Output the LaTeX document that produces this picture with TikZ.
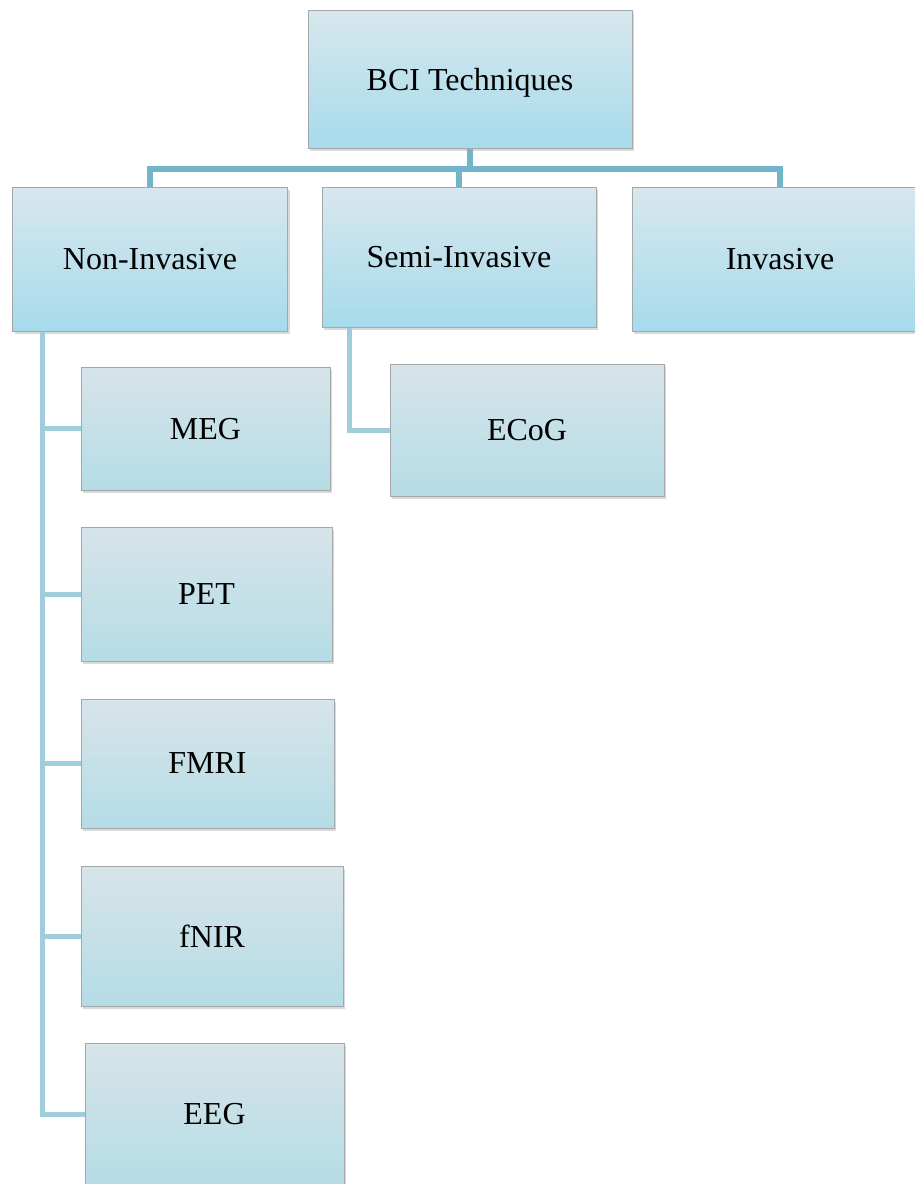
\documentclass[tikz,border=0pt]{standalone}
\usepackage{fontspec}
\setmainfont{Liberation Serif}
\usetikzlibrary{positioning, shadows}

\definecolor{busdark}{HTML}{72B5CA}
\definecolor{buslight}{HTML}{A0CCDB}
\definecolor{boxedge}{HTML}{A4A8AA}
\definecolor{headtop}{HTML}{D8E7ED}
\definecolor{headbot}{HTML}{A6DBEC}
\definecolor{subtop}{HTML}{D7E4E9}
\definecolor{subbot}{HTML}{B5DCE6}

\begin{document}
\begin{tikzpicture}[
    x=1pt, y=-1pt, % one unit is one pixel of the layout
    box/.style={draw=boxedge, line width=1pt, inner sep=0pt, text depth=0pt, font=\fontsize{32}{38}\selectfont,
      drop shadow={opacity=0.3, shadow xshift=2pt, shadow yshift=-3pt}}, % common box look
    headbox/.style={box, top color=headtop, bottom color=headbot}, % top two rows
    subbox/.style={box, top color=subtop, bottom color=subbot}, % technique boxes
    bus/.style={line width=6pt, draw=busdark}, % upper tree lines
    sidebus/.style={line width=5pt, draw=buslight} % side lines to the techniques
  ]

  % --- Page ---
  \useasboundingbox (0,0) rectangle (915,1184);
  \clip (0,0) rectangle (915,1184);

  % --- Root and categories ---
  \node[headbox, minimum width=324pt, minimum height=138pt] (bci) at (470,79) {BCI Techniques};
  \node[headbox, minimum width=275pt, minimum height=144pt] (noninv) at (150,259) {Non-Invasive};
  \node[headbox, minimum width=274pt, minimum height=140pt] (semiinv) at (459,257) {Semi-Invasive};
  \node[headbox, minimum width=296pt, minimum height=144pt] (inv) at (780,259) {Invasive};

  % --- Techniques ---
  \node[subbox, minimum width=249pt, minimum height=123pt] (meg) at (205.5,428.5) {MEG};
  \node[subbox, minimum width=251pt, minimum height=134pt] (pet) at (206.5,594) {PET};
  \node[subbox, minimum width=253pt, minimum height=129pt] (fmri) at (207.5,763.5) {FMRI};
  \node[subbox, minimum width=262pt, minimum height=140pt] (fnir) at (212,936) {fNIR};
  \node[subbox, minimum width=259pt, minimum height=142pt] (eeg) at (214.5,1114) {EEG};
  \node[subbox, minimum width=274pt, minimum height=132pt] (ecog) at (527,430) {ECoG};

  % --- Tree lines ---
  \draw[bus] (bci.south) -- ++(0,20) coordinate (split);
  \draw[bus] (split) -| (noninv.north);
  \draw[bus] (split) -| (semiinv.north);
  \draw[bus] (split) -| (inv.north);

  \coordinate (nonbus) at ([xshift=30pt]noninv.south west);
  \draw[sidebus] (nonbus) |- (eeg.west);
  \foreach \tech in {meg, pet, fmri, fnir}
    \draw[sidebus] (nonbus |- \tech.west) -- (\tech.west);

  \coordinate (semibus) at ([xshift=28pt]semiinv.south west);
  \draw[sidebus] (semibus) |- (ecog.west);

\end{tikzpicture}
\end{document}
